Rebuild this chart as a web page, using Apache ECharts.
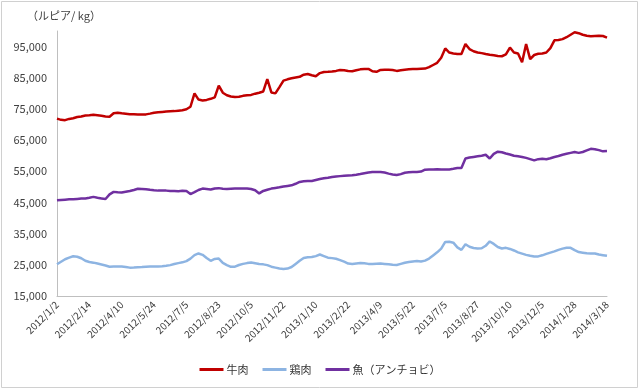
<!DOCTYPE html>
<html>
<head>
<meta charset="utf-8">
<script src="https://cdn.jsdelivr.net/npm/echarts@6/dist/echarts.min.js"></script>
<style>
html,body{margin:0;padding:0;background:#fff;}
#chart{width:640px;height:390px;}
</style>
</head>
<body>
<div id="chart"></div>
<script>
// Tick labels on the x axis (one every 8 data points)
const tickLabels = ["2012/1/2","2012/2/14","2012/4/10","2012/5/24","2012/7/5","2012/8/23","2012/10/5","2012/11/22","2013/1/10","2013/2/22","2013/4/9","2013/5/22","2013/7/5","2013/8/27","2013/10/10","2013/12/5","2014/1/28","2014/3/18"];
const pointsPerTick = 8;

const seriesNames = ["牛肉","鶏肉","魚（アンチョビ）"];

const beef = [71900,71500,71400,71800,72000,72400,72600,72900,73000,73150,73000,72800,72600,72500,73600,73800,73600,73450,73300,73300,
73250,73250,73250,73500,73800,73950,74050,74150,74250,74300,74450,74600,74900,75700,80000,78000,77700,77900,78250,78700,
82500,80200,79400,79000,78800,78900,79200,79400,79500,79900,80200,80600,84600,80300,80000,82000,84100,84500,84850,85100,
85300,86000,86200,85800,85500,86500,86850,86900,87000,87200,87500,87400,87200,87100,87400,87700,87800,87850,87100,86900,
87500,87550,87550,87500,87200,87400,87600,87700,87800,87850,87900,87950,88400,89100,89800,91400,94400,93100,92800,92650,
92600,95800,94200,93500,93100,92900,92600,92350,92200,92000,91900,92500,94700,93100,92800,90000,95800,91000,92300,92700,
92800,93100,94500,97000,97100,97400,98000,98800,99600,99300,98800,98500,98300,98400,98500,98400,97900];

const chicken = [25200,26000,26800,27300,27750,27600,27100,26300,25900,25700,25400,25100,24800,24400,24450,24500,24450,24300,24100,24150,
24250,24300,24400,24500,24500,24500,24550,24700,24900,25250,25550,25800,26200,27000,28100,28650,28200,27200,26300,26900,
27000,25600,24900,24350,24400,24950,25300,25550,25750,25500,25250,25150,24900,24400,24100,23800,23650,23800,24300,25300,
26300,27200,27400,27500,27800,28300,27800,27300,27150,26950,26500,26000,25400,25300,25450,25600,25500,25300,25250,25350,
25450,25300,25150,25000,24950,25300,25650,25900,26100,26200,26050,26350,27000,28000,29000,30200,32350,32400,32100,30600,
29800,31600,30800,30400,30250,30300,31100,32500,31700,30700,30250,30450,30100,29600,29000,28600,28200,27900,27700,27700,
28050,28500,28900,29300,29800,30200,30450,30450,29700,29100,28900,28700,28650,28650,28300,28100,27900];

const fish = [45700,45800,45900,46000,46050,46150,46250,46300,46500,46800,46500,46300,46100,47600,48400,48250,48200,48450,48700,49000,
49400,49350,49250,49050,48900,48800,48850,48800,48700,48650,48600,48750,48650,47700,48300,49000,49450,49300,49150,49500,
49600,49400,49350,49400,49450,49450,49450,49450,49300,48900,47900,48700,49100,49450,49650,49850,50100,50300,50500,51000,
51600,51800,51850,51900,52200,52500,52750,52950,53200,53350,53450,53550,53650,53750,53900,54100,54350,54600,54800,54800,
54750,54600,54250,54000,53800,54100,54550,54700,54750,54800,54900,55500,55550,55600,55650,55550,55550,55600,55800,56050,
56050,59100,59400,59600,59800,60000,60300,59100,60600,61300,61100,60700,60400,60000,59800,59600,59300,58900,58500,58900,
59000,58850,59200,59600,59900,60300,60600,60900,61200,60900,61200,61700,62200,62100,61800,61400,61500];

const yMin = 15000, yMax = 100000, yStep = 5000;

// Build category axis from the tick labels
const categories = [];
tickLabels.forEach((lab, j) => {
  categories.push(lab);
  if (j < tickLabels.length - 1) {
    for (let k = 1; k < pointsPerTick; k++) categories.push('');
  }
});

const colors = ['#C00000', '#8DB4E2', '#7030A0'];
const font = '"Noto Sans CJK JP", "Noto Sans", sans-serif';

const chart = echarts.init(document.getElementById('chart'));
chart.setOption({
  animation: false,
  backgroundColor: '#ffffff',
  textStyle: { fontFamily: font },
  graphic: [
    { type: 'rect', shape: { x: 1.5, y: 1.5, width: 636, height: 386 }, style: { fill: 'none', stroke: '#d0d0d0', lineWidth: 1 }, silent: true },
    { type: 'text', left: 27, top: 10, style: { text: '（ルピア/ kg）', fill: '#404040', font: '11px ' + font } }
  ],
  color: colors,
  legend: {
    bottom: 10,
    left: 'center',
    icon: 'rect',
    itemWidth: 24,
    itemHeight: 3,
    itemGap: 14,
    textStyle: { fontSize: 11, color: '#333', fontFamily: font, padding: [0, 0, 0, -2] },
    data: seriesNames
  },
  grid: { left: 57, right: 33, top: 31, bottom: 94, containLabel: false },
  xAxis: {
    type: 'category',
    data: categories,
    boundaryGap: false,
    axisLine: { lineStyle: { color: '#bfbfbf', width: 1 } },
    axisTick: { show: false },
    splitLine: { show: false },
    axisLabel: { rotate: 45, interval: pointsPerTick - 1, fontSize: 10, color: '#404040', margin: 7, fontFamily: font }
  },
  yAxis: {
    type: 'value',
    min: yMin,
    max: yMax,
    interval: yStep,
    axisLine: { show: true, lineStyle: { color: '#bfbfbf', width: 1 } },
    axisTick: { show: false },
    splitLine: { show: false },
    axisLabel: {
      fontSize: 11, color: '#404040', margin: 10, fontFamily: font,
      formatter: v => ((v - yMin) % 10000 === 0 && v < yMax) ? v.toLocaleString('en-US') : ''
    }
  },
  series: [
    { name: seriesNames[0], type: 'line', data: beef, symbol: 'none', lineStyle: { width: 2.5, color: colors[0] } },
    { name: seriesNames[1], type: 'line', data: chicken, symbol: 'none', lineStyle: { width: 2.5, color: colors[1] } },
    { name: seriesNames[2], type: 'line', data: fish, symbol: 'none', lineStyle: { width: 2.5, color: colors[2] } }
  ]
});
</script>
</body>
</html>
